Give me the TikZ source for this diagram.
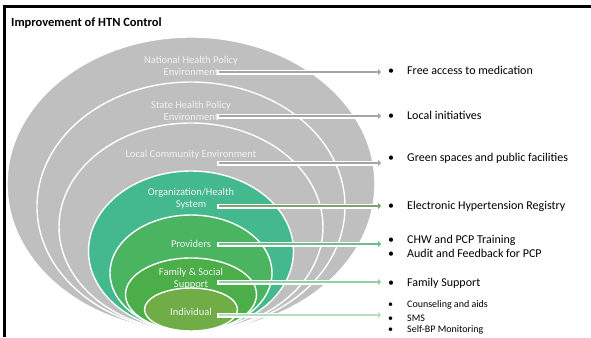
\documentclass[tikz,border=0pt]{standalone}
\usepackage{fontspec}
\setmainfont{Carlito}
\usepackage{tikz}
\usetikzlibrary{arrows.meta}

\definecolor{capagris}{HTML}{BFBFBF}
\definecolor{lineagris}{HTML}{A5A5A5}
\definecolor{verdeorg}{HTML}{43B98D}
\definecolor{verdeprov}{HTML}{4BB461}
\definecolor{verdefam}{HTML}{4CAE48}
\definecolor{verdeind}{HTML}{70AD47}
\definecolor{lineaorg}{HTML}{7FA274}
\definecolor{lineaprov}{HTML}{6DBE8A}
\definecolor{lineafam}{HTML}{8FD0A4}
\definecolor{lineaind}{HTML}{B7DFB9}
\definecolor{textoclaro}{HTML}{F2F2F2}

\newcommand{\bala}{\makebox[19pt][l]{\textbullet}}

\tikzset{
  capa/.style={draw=white, line width=1.4pt},
  etiqueta/.style={text=textoclaro, align=center, inner sep=0pt,
    font=\fontsize{10.5}{12}\selectfont},
  conector/.style={line width=2.8pt, draw=#1,
    preaction={draw=white, line width=5pt, line cap=rect},
    -{Triangle[length=3pt,width=6pt]}},
  punto/.style={anchor=west, inner sep=0pt, font=\fontsize{12}{14}\selectfont},
  puntochico/.style={punto, font=\fontsize{10}{12}\selectfont},
}

\begin{document}
\begin{tikzpicture}[x=1pt, y=-1pt]
  \clip (0,0) rectangle (591,337);

  % Marco
  \draw[line width=3pt] (4.5,337) -- (4.5,7) -- (591,7);

  % Titulo
  \node[anchor=west, inner sep=0pt, font=\bfseries\fontsize{12.5}{14}\selectfont]
    (titulo) at (11,23) {Improvement of HTN Control};

  % Elipses anidadas, de fuera hacia dentro
  \foreach \nombre/\rx/\ry/\col/\ty/\txt in {
      nacional/184/147/capagris/66/{National Health Policy\\Environment},
      estatal/154/124.5/capagris/111/{State Health Policy\\Environment},
      local/132/104/capagris/155/{Local Community Environment},
      sistema/102.5/80/verdeorg/199/{Organization/Health\\System},
      proveedores/81/58/verdeprov/244/{Providers},
      familia/65.5/36.5/verdefam/279/{Family \& Social\\Support},
      individuo/46.5/21.5/verdeind/312/{Individual}}{
    \filldraw[capa, fill=\col] (191,{331-\ry}) ellipse [x radius=\rx, y radius=\ry];
    \node[etiqueta] (\nombre) at (191,\ty) {\txt};
  }

  % Conectores
  \foreach \i/\y/\col in {1/72/lineagris, 2/116/lineagris, 3/163/lineagris,
      4/206/lineaorg, 5/244/lineaprov, 6/282/lineafam, 7/315/lineaind}{
    \coordinate (ini\i) at (219,\y);
    \coordinate (fin\i) at (381,\y);
    \draw[conector=\col] (ini\i) -- (fin\i);
  }

  % Intervenciones
  \node[punto] (medicacion) at (388,70) {\bala Free access to medication};
  \node[punto] (iniciativas) at (388,115) {\bala Local initiatives};
  \node[punto] (espacios) at (388,158) {\bala Green spaces and public facilities};
  \node[punto] (registro) at (388,206) {\bala Electronic Hypertension Registry};
  \node[punto] (formacion) at (388,240) {\bala CHW and PCP Training};
  \node[punto] (auditoria) at (388,253) {\bala Audit and Feedback for PCP};
  \node[punto] (apoyo) at (388,283) {\bala Family Support};
  \node[puntochico] (consejo) at (388,305) {\bala Counseling and aids};
  \node[puntochico] (sms) at (388,318) {\bala SMS};
  \node[puntochico] (automedida) at (388,330) {\bala Self-BP Monitoring};
\end{tikzpicture}
\end{document}
